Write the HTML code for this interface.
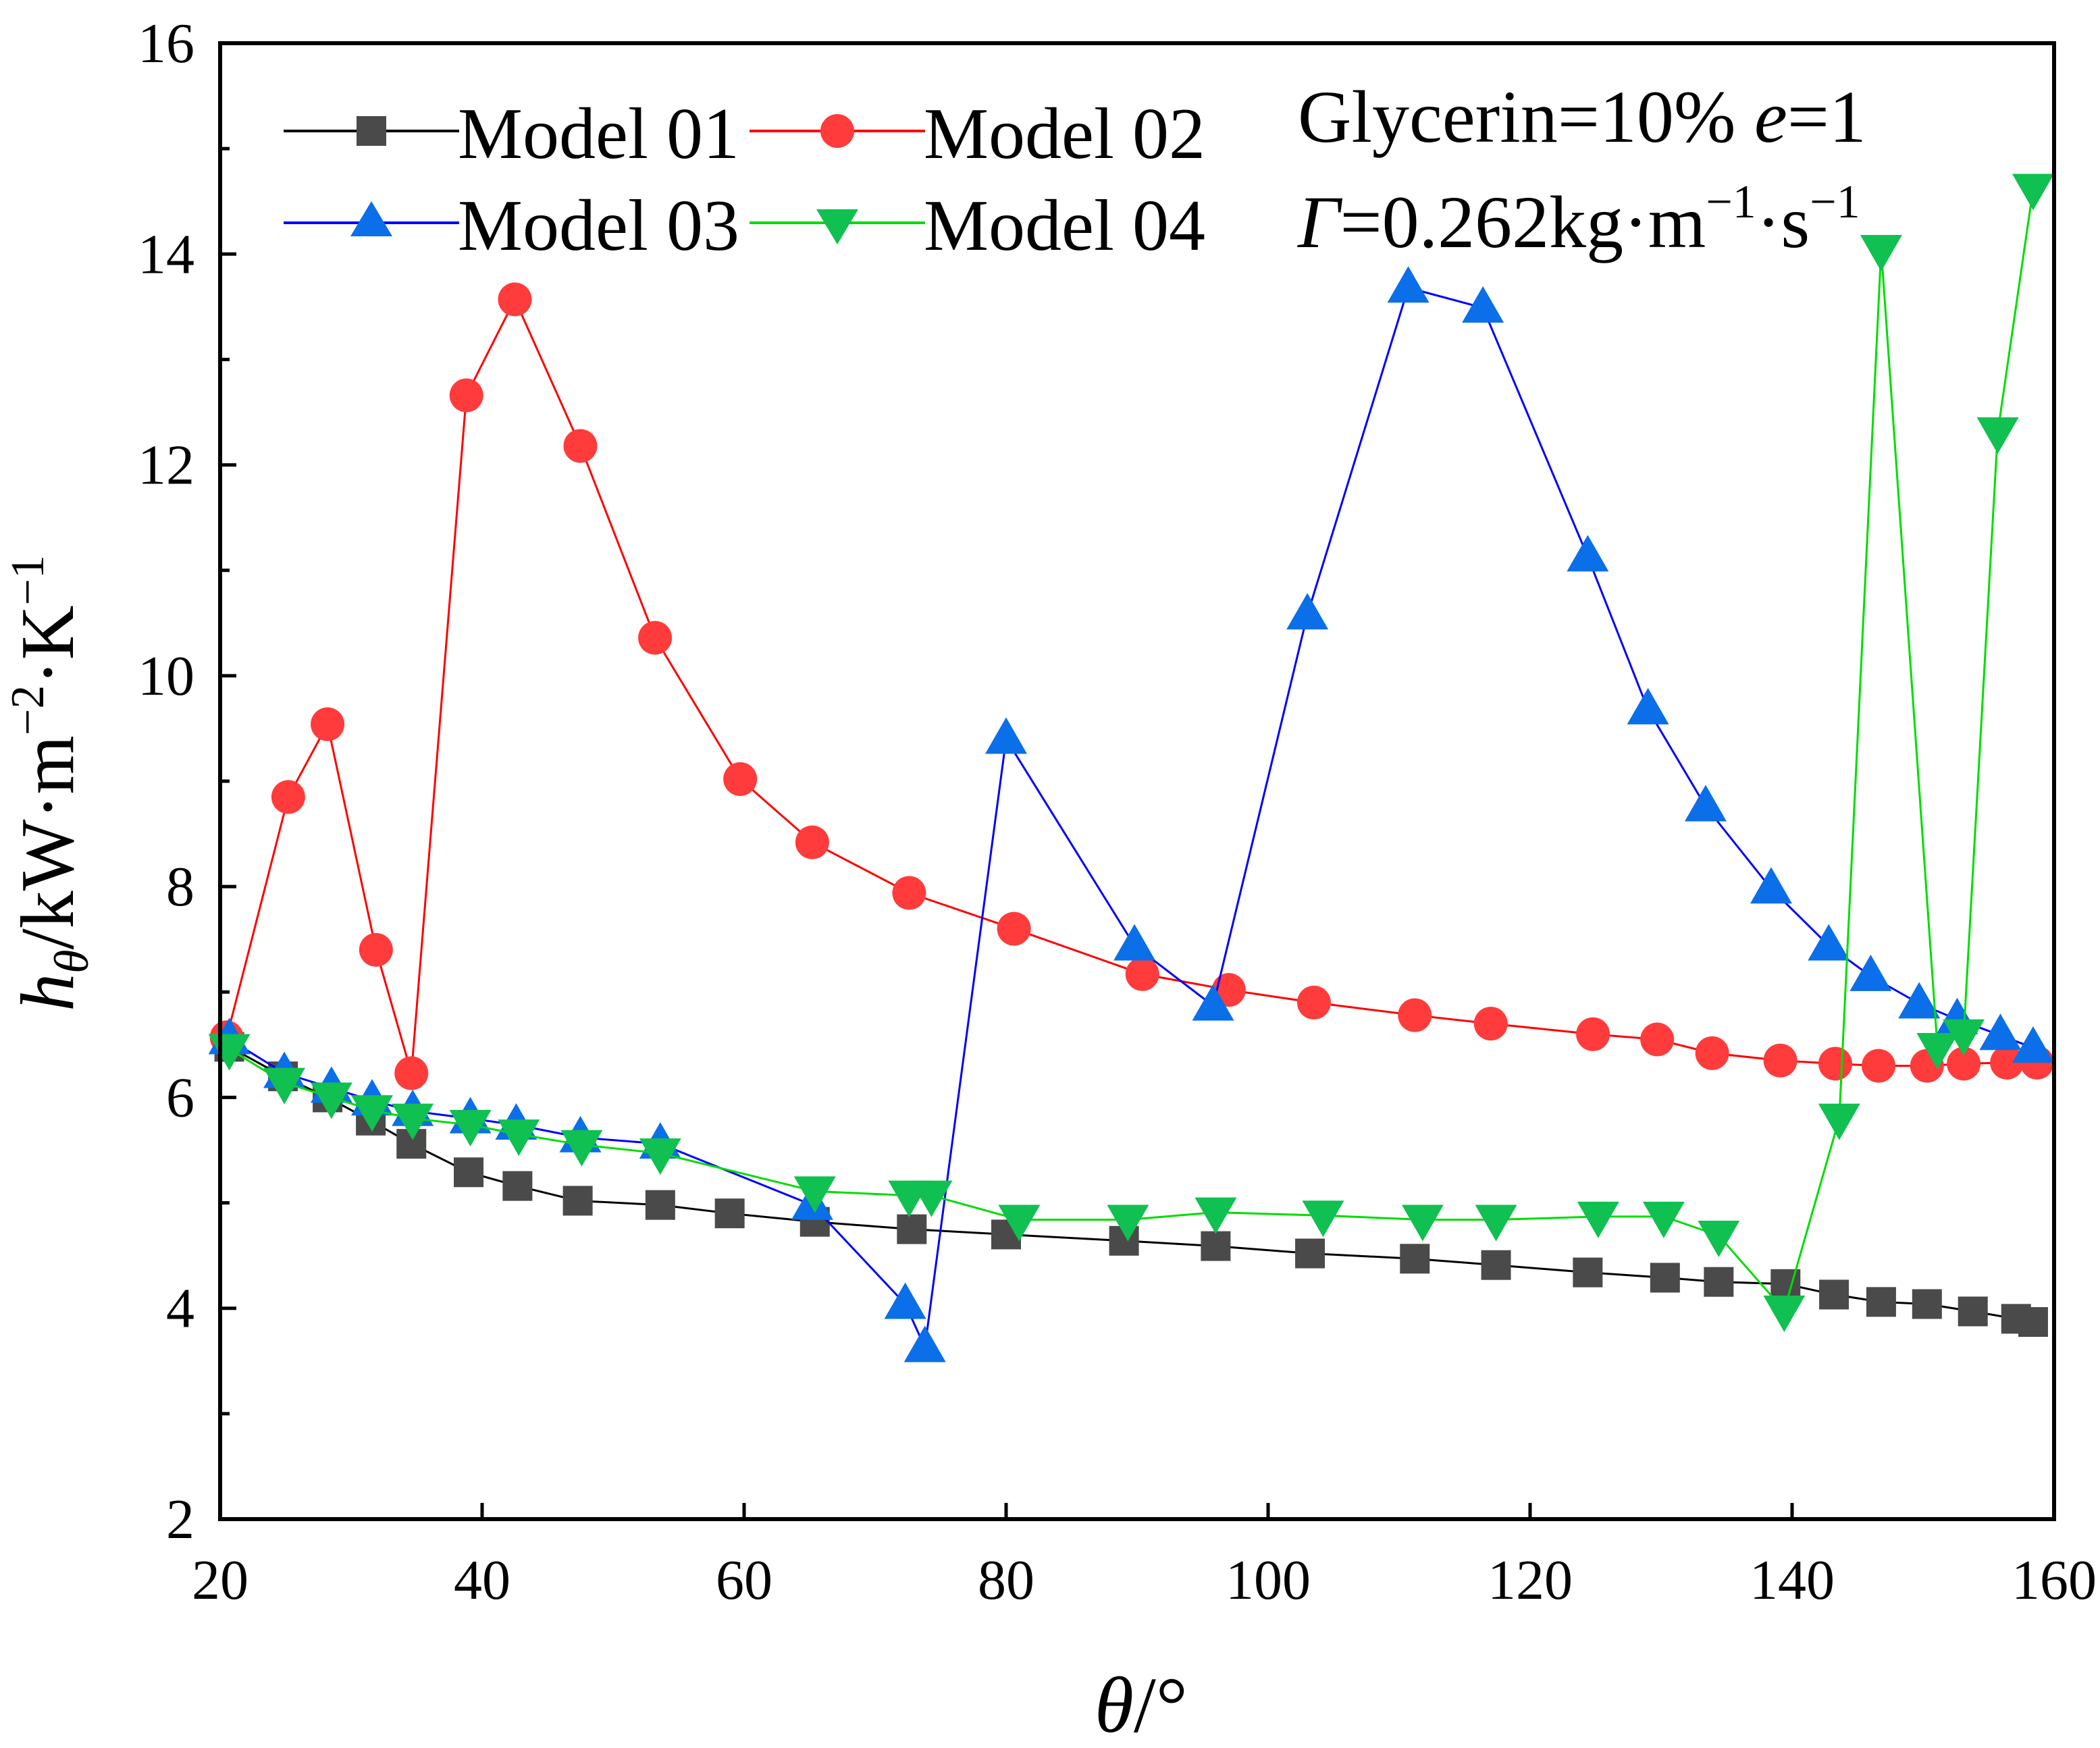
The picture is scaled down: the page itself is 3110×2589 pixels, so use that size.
<!DOCTYPE html>
<html><head><meta charset="utf-8"><style>
html,body{margin:0;padding:0;background:#fff}
svg{display:block;font-family:"Liberation Serif",serif}
</style></head><body>
<svg id="chart" width="3110" height="2589" viewBox="0 0 3110 2589" xmlns="http://www.w3.org/2000/svg">
<g id="plot"></g>
<g id="axes"></g>
<g id="legend"></g>
</svg>
<script>
const xTicks=[20,40,60,80,100,120,140,160];
const yTicks=[2,4,6,8,10,12,14,16];
const x01=[20.7,24.8,28.2,31.5,34.6,38.97,42.7,47.3,53.6,58.9,65.4,72.8,80,89,96,103.2,111.2,117.4,124.4,130.3,134.4,139.5,143.2,146.8,150.3,153.8,157.1,158.4];
const y01=[6.48,6.2,6.0,5.78,5.56,5.29,5.16,5.02,4.98,4.9,4.82,4.75,4.7,4.64,4.59,4.52,4.47,4.41,4.34,4.29,4.25,4.23,4.13,4.06,4.04,3.97,3.9,3.87];
const x02=[20.5,25.2,28.2,31.9,34.6,38.8,42.5,47.5,53.2,59.7,65.2,72.6,80.6,90.4,97,103.5,111.2,117,124.8,129.7,133.9,139.1,143.3,146.6,150.3,153.1,156.4,158.7];
const y02=[6.57,8.85,9.54,7.4,6.23,12.66,13.57,12.18,10.36,9.02,8.42,7.94,7.6,7.17,7.02,6.9,6.78,6.7,6.6,6.55,6.42,6.35,6.32,6.3,6.3,6.32,6.33,6.33];
const x03=[20.7,24.9,28.5,31.6,34.7,39.1,42.6,47.5,53.6,65.2,72.3,73.8,80,89.8,95.8,103,110.7,116.4,124.4,129,133.4,138.4,142.8,146,149.7,152.6,155.9,158.4];
const y03=[6.55,6.23,6.09,5.97,5.87,5.8,5.74,5.62,5.56,4.98,4.04,3.63,9.4,7.44,6.87,10.58,13.68,13.49,11.13,9.68,8.76,7.98,7.44,7.15,6.89,6.74,6.59,6.47];
const x04=[20.7,24.9,28.5,31.6,34.7,39.1,42.8,47.6,53.6,65.4,72.6,74.3,81,89.3,96,104.2,111.8,117.4,125.2,130.2,134.4,139.4,143.6,146.8,151.1,153.1,155.7,158.4];
const y04=[6.46,6.14,6.0,5.88,5.8,5.74,5.65,5.55,5.47,5.11,5.07,5.07,4.84,4.84,4.91,4.88,4.84,4.84,4.87,4.87,4.69,3.98,5.8,14.04,6.47,6.6,12.31,14.62];

const NS='http://www.w3.org/2000/svg';
const L=326,R=3042,T=64,B=2250;
const sx=v=>L+(v-20)/140*(R-L);
const sy=v=>B-(v-2)/14*(B-T);
function mk(tag,attrs,parent){const e=document.createElementNS(NS,tag);for(const k in attrs)e.setAttribute(k,attrs[k]);parent.appendChild(e);return e;}
const plot=document.getElementById('plot'),axes=document.getElementById('axes'),legend=document.getElementById('legend');

function marker(kind,cx,cy,color,parent){
  let e;
  if(kind==='square'){e=mk('rect',{x:cx-22,y:cy-22,width:44,height:44,fill:color},parent);}
  else if(kind==='circle'){e=mk('circle',{cx:cx,cy:cy,r:25,fill:color},parent);}
  else if(kind==='up'){e=mk('polygon',{points:`${cx},${cy-32} ${cx+31},${cy+22} ${cx-31},${cy+22}`,fill:color},parent);}
  else {e=mk('polygon',{points:`${cx},${cy+32} ${cx+31},${cy-22} ${cx-31},${cy-22}`,fill:color},parent);}
  return e;
}
const series=[
 {xs:x01,ys:y01,line:'#000000',fill:'#4a4a4a',m:'square',name:'model-01'},
 {xs:x02,ys:y02,line:'#ff0000',fill:'#ff3b3b',m:'circle',name:'model-02'},
 {xs:x03,ys:y03,line:'#0000ff',fill:'#0a6fe8',m:'up',name:'model-03'},
 {xs:x04,ys:y04,line:'#00dd00',fill:'#10c050',m:'down',name:'model-04'}
];
series.forEach(s=>{
  const g=mk('g',{},plot);
  
  
  const pts=s.xs.map((x,i)=>sx(x)+','+sy(s.ys[i])).join(' ');
  const pl=mk('polyline',{points:pts,fill:'none',stroke:s.line,'stroke-width':3},g);
  
  
  s.xs.forEach((x,i)=>{
    const m=marker(s.m,sx(x),sy(s.ys[i]),s.fill,g);
    
    
  });
});

const fr=mk('rect',{x:L,y:T,width:R-L,height:B-T,fill:'none',stroke:'#000','stroke-width':6},axes);


xTicks.forEach(v=>{
  const t=mk('line',{x1:sx(v),x2:sx(v),y1:B,y2:B-24,stroke:'#000','stroke-width':5},axes);
  
  
  const tx=mk('text',{x:sx(v),y:B+118,'font-size':84,'text-anchor':'middle'},axes);
  tx.textContent=v;
  
  
});
yTicks.forEach((v,i)=>{
  const t=mk('line',{x1:L,x2:L+24,y1:sy(v),y2:sy(v),stroke:'#000','stroke-width':5},axes);
  
  
  if(i<yTicks.length-1){
    const mt=mk('line',{x1:L,x2:L+14,y1:sy(v+1),y2:sy(v+1),stroke:'#000','stroke-width':5},axes);
    
    
  }
  const tx=mk('text',{x:L-38,y:sy(v)+28,'font-size':84,'text-anchor':'end'},axes);
  tx.textContent=v;
  
  
});
</script>
<script>
(function(){
const NS='http://www.w3.org/2000/svg';
const legend=document.getElementById('legend');
function mk(tag,attrs,parent){const e=document.createElementNS(NS,tag);for(const k in attrs)e.setAttribute(k,attrs[k]);parent.appendChild(e);return e;}
const items=[
 {x:420,y:194,c:'#000',f:'#4a4a4a',m:'square',t:'Model 01'},
 {x:1110,y:194,c:'#ff0000',f:'#ff3b3b',m:'circle',t:'Model 02'},
 {x:420,y:330,c:'#0000ff',f:'#0a6fe8',m:'up',t:'Model 03'},
 {x:1110,y:330,c:'#00dd00',f:'#10c050',m:'down',t:'Model 04'}
];
items.forEach(it=>{
  const g=mk('g',{},legend);
  
  
  mk('line',{x1:it.x,x2:it.x+260,y1:it.y,y2:it.y,stroke:it.c,'stroke-width':4},g);
  const cx=it.x+130,cy=it.y;
  if(it.m==='square')mk('rect',{x:cx-22,y:cy-22,width:44,height:44,fill:it.f},g);
  else if(it.m==='circle')mk('circle',{cx:cx,cy:cy,r:25,fill:it.f},g);
  else if(it.m==='up')mk('polygon',{points:`${cx},${cy-32} ${cx+31},${cy+20} ${cx-31},${cy+20}`,fill:it.f},g);
  else mk('polygon',{points:`${cx},${cy+32} ${cx+31},${cy-20} ${cx-31},${cy-20}`,fill:it.f},g);
  const t=mk('text',{x:it.x+258,y:it.y+40,'font-size':108},g);
  t.textContent=it.t;
});
})();
</script>
<svg style="position:absolute;left:0;top:0" width="3110" height="2589" viewBox="0 0 3110 2589" xmlns="http://www.w3.org/2000/svg" font-family="'Liberation Serif', serif">
<text x="1922" y="210" font-size="110">Glycerin=10% <tspan font-style="italic">e</tspan>=1</text>
<text x="1922" y="366" font-size="110"><tspan font-style="italic">Γ</tspan>=0.262kg·m<tspan font-size="70" dy="-44">−1</tspan><tspan dy="44">·s</tspan><tspan font-size="70" dy="-44">−1</tspan></text>
<text x="1690" y="2565" font-size="118" text-anchor="middle"><tspan font-style="italic">θ</tspan>/°</text>
<text transform="translate(108,1160) rotate(-90)" font-size="112" text-anchor="middle"><tspan font-style="italic">h</tspan><tspan font-style="italic" font-size="72" dy="22">θ</tspan><tspan dy="-22">/kW·m</tspan><tspan font-size="70" dy="-44">−2</tspan><tspan dy="44">·K</tspan><tspan font-size="70" dy="-44">−1</tspan></text>
</svg>
</body></html>
